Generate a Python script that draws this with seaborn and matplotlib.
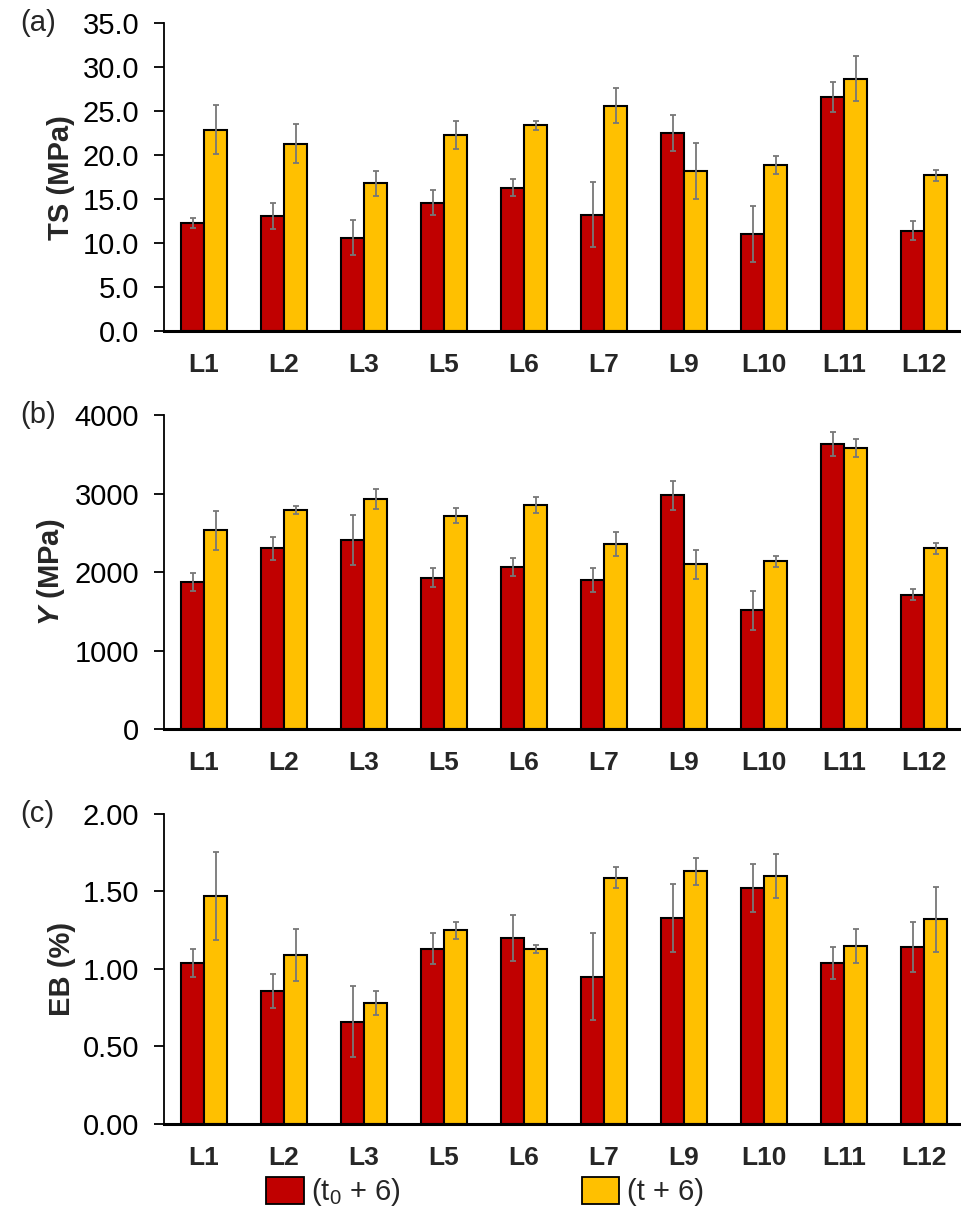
import numpy as np
import pandas as pd
import matplotlib
matplotlib.use('Agg')
import matplotlib.pyplot as plt
import matplotlib.patches as mpatches
from matplotlib.ticker import FormatStrFormatter
import seaborn as sns

# ---- data ----
lines = ['L1', 'L2', 'L3', 'L5', 'L6', 'L7', 'L9', 'L10', 'L11', 'L12']
groups = ['(t0 + 6)', '(t + 6)']

ts_t0 = [12.3, 13.1, 10.6, 14.6, 16.3, 13.2, 22.5, 11.0, 26.6, 11.4]
ts_t0_err = [0.6, 1.5, 2.0, 1.4, 1.0, 3.7, 2.0, 3.2, 1.7, 1.1]
ts_t = [22.9, 21.3, 16.8, 22.3, 23.4, 25.6, 18.2, 18.9, 28.7, 17.7]
ts_t_err = [2.8, 2.2, 1.4, 1.6, 0.5, 2.0, 3.2, 1.0, 2.6, 0.6]

y_t0 = [1870, 2300, 2410, 1930, 2065, 1895, 2980, 1510, 3630, 1710]
y_t0_err = [115, 150, 320, 115, 115, 150, 185, 245, 150, 70]
y_t = [2530, 2785, 2930, 2715, 2850, 2360, 2100, 2135, 3580, 2300]
y_t_err = [250, 50, 130, 95, 100, 155, 185, 65, 115, 70]

eb_t0 = [1.04, 0.86, 0.66, 1.13, 1.20, 0.95, 1.33, 1.52, 1.04, 1.14]
eb_t0_err = [0.09, 0.11, 0.23, 0.10, 0.15, 0.28, 0.22, 0.155, 0.105, 0.16]
eb_t = [1.47, 1.09, 0.78, 1.25, 1.13, 1.59, 1.63, 1.60, 1.15, 1.32]
eb_t_err = [0.285, 0.165, 0.075, 0.055, 0.025, 0.07, 0.085, 0.145, 0.11, 0.21]

COLORS = ['#C00000', '#FFC000']

sns.set_theme(style='white')
plt.rcParams['font.family'] = ['Liberation Sans', 'DejaVu Sans']
plt.rcParams['mathtext.fontset'] = 'custom'
plt.rcParams['mathtext.rm'] = 'Liberation Sans'
plt.rcParams['mathtext.it'] = 'Liberation Sans:italic:bold'

TICK_FS = 21
LAB_FS = 21


def draw_panel(ax, v0, e0, v1, e1, ymax, step, fmt, ylabel, tag):
    df = pd.DataFrame({
        'line': lines * 2,
        'group': [groups[0]] * len(lines) + [groups[1]] * len(lines),
        'value': v0 + v1,
    })
    sns.barplot(data=df, x='line', y='value', hue='group', order=lines,
                hue_order=groups, palette=COLORS, saturation=1, width=0.575,
                errorbar=None, edgecolor='black', linewidth=1.5, legend=False, ax=ax)
    # 誤差棒：用 seaborn 畫好的長條位置
    for cont, errs in zip(ax.containers, [e0, e1]):
        for p, e in zip(cont.patches, errs):
            ax.errorbar(p.get_x() + p.get_width() / 2, p.get_height(), yerr=e,
                        fmt='none', ecolor='#777777', elinewidth=1.3,
                        capsize=2.5, capthick=1.3, zorder=5)
    ax.set_xlim(-0.5, len(lines) - 0.5)
    ax.set_ylim(0, ymax)
    ax.set_yticks(np.arange(0, ymax + step / 2, step))
    ax.yaxis.set_major_formatter(FormatStrFormatter(fmt))
    ax.set_xlabel('')
    ax.set_ylabel(ylabel, fontsize=LAB_FS, fontweight='bold', labelpad=5)
    sns.despine(ax=ax)
    ax.spines['left'].set_color('black')
    ax.spines['left'].set_linewidth(1.3)
    ax.spines['bottom'].set_color('black')
    ax.spines['bottom'].set_linewidth(2.2)
    ax.tick_params(axis='y', left=True, length=7, width=1.3, labelsize=TICK_FS,
                   colors='black', pad=11)
    ax.tick_params(axis='x', bottom=False, labelsize=19, pad=10)
    for lab in ax.get_xticklabels():
        lab.set_fontweight('bold')
    fig = ax.figure
    top = ax.get_position().y1
    fig.text(0.021, top, tag, fontsize=TICK_FS, ha='left', va='center')


fig = plt.figure(figsize=(9.62, 12.22), dpi=100)
ax_a = fig.add_axes([0.1705, 0.7291, 0.8316, 0.252])
ax_b = fig.add_axes([0.1705, 0.4034, 0.8316, 0.257])
ax_c = fig.add_axes([0.1705, 0.0802, 0.8316, 0.2537])

draw_panel(ax_a, ts_t0, ts_t0_err, ts_t, ts_t_err, 35, 5, '%.1f', 'TS (MPa)', '(a)')
draw_panel(ax_b, y_t0, y_t0_err, y_t, y_t_err, 4000, 1000, '%.0f',
           r'$\mathit{Y}$ (MPa)', '(b)')
draw_panel(ax_c, eb_t0, eb_t0_err, eb_t, eb_t_err, 2.0, 0.5, '%.2f', 'EB (%)', '(c)')

handles = [mpatches.Patch(facecolor=COLORS[0], edgecolor='black', linewidth=1.3,
                          label=r'(t$_{\mathrm{0}}$ + 6)'),
           mpatches.Patch(facecolor=COLORS[1], edgecolor='black', linewidth=1.3,
                          label='(t + 6)')]
fig.legend(handles=handles, loc='center', bbox_to_anchor=(0.504, 0.0245), ncol=2,
           frameon=False, fontsize=21, handlelength=1.3, handleheight=1.05,
           handletextpad=0.25, columnspacing=6.2, borderpad=0.1)

fig.savefig('out.png', dpi=100)
